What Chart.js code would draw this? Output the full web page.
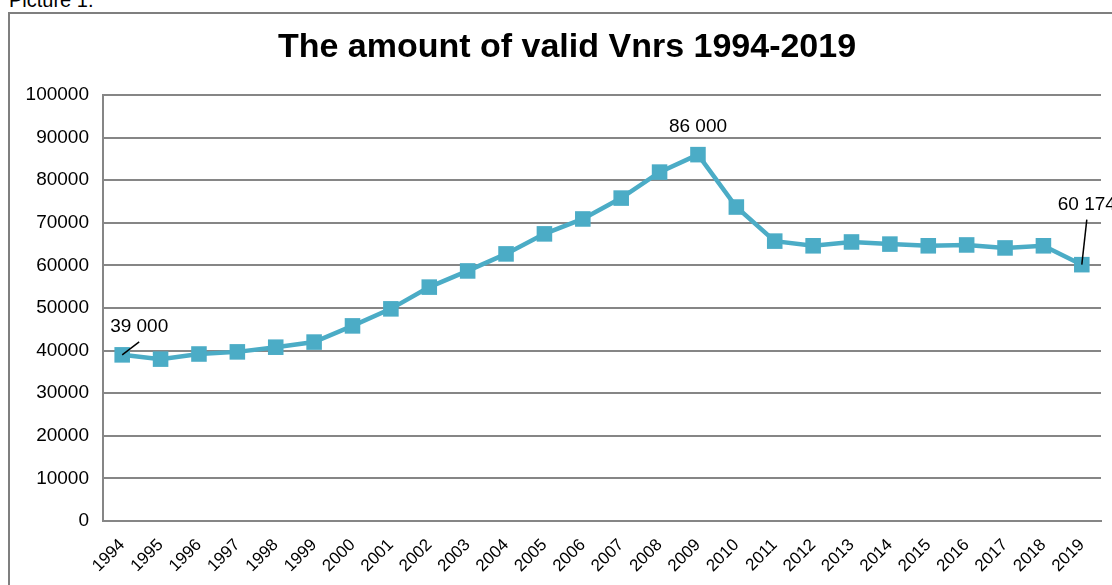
<!DOCTYPE html>
<html>
<head>
<meta charset="utf-8">
<script src="https://cdn.jsdelivr.net/npm/chart.js@4"></script>
<style>
  html, body { margin: 0; padding: 0; background: #fff; overflow: hidden; width: 1112px; height: 585px; }
  #caption { position: absolute; left: 9px; top: -11px; font: 20px "Liberation Sans", Arial, sans-serif; color: #000; }
  #frame { position: absolute; left: 8px; top: 12px; width: 1200px; height: 700px; border: 2px solid #7f7f7f; box-sizing: border-box; }
  #wrap { position: absolute; left: 0; top: 0; width: 1134px; height: 585px; }
</style>
</head>
<body>
<div id="caption">Picture 1.</div>
<div id="frame"></div>
<div id="wrap"><canvas id="vnrChart"></canvas></div>
<script>
// ---- data ----
const years = ["1994", "1995", "1996", "1997", "1998", "1999", "2000", "2001", "2002", "2003",
  "2004", "2005", "2006", "2007", "2008", "2009", "2010", "2011", "2012", "2013",
  "2014", "2015", "2016", "2017", "2018", "2019"];
const validVnrs = [39000, 38000, 39200, 39700, 40800, 42000, 45800, 49800, 54900, 58700,
  62700, 67400, 70900, 75800, 81900, 86000, 73700, 65700, 64600, 65500,
  65000, 64600, 64800, 64100, 64600, 60174];
const yTicks = [0, 10000, 20000, 30000, 40000, 50000, 60000, 70000, 80000, 90000, 100000];
const chartTitle = "The amount of valid Vnrs 1994-2019";
// labelled points and where their text sits relative to the point
const callouts = [
  { idx: 0, text: "39 000", dx: 17, dy: -28, lineTo: [17, -13] },
  { idx: 15, text: "86 000", dx: 0, dy: -28, lineTo: null },
  { idx: 25, text: "60 174", dx: 5, dy: -60, lineTo: [5, -45] }
];

const FONT = "\"Liberation Sans\", Arial, sans-serif";
const lineColor = "#4bacc6";

// title centred on the whole frame (which runs past the right edge), plus the value callouts
const calloutPlugin = {
  id: "callouts",
  afterDraw(chart) {
    const { ctx } = chart;
    ctx.save();
    ctx.font = "bold 34px " + FONT;
    ctx.fillStyle = "#000";
    ctx.textAlign = "center";
    ctx.textBaseline = "middle";
    ctx.fillText(chartTitle, chart.width / 2, 48);
    ctx.restore();
  },
  afterDatasetsDraw(chart) {
    const { ctx, scales } = chart;
    ctx.save();
    ctx.font = "19px " + FONT;
    ctx.fillStyle = "#000";
    ctx.strokeStyle = "#000";
    ctx.lineWidth = 1.5;
    ctx.textAlign = "center";
    ctx.textBaseline = "middle";
    callouts.forEach(c => {
      const x = scales.x.getPixelForValue(c.idx);
      const y = scales.y.getPixelForValue(validVnrs[c.idx]);
      if (c.lineTo) {
        ctx.beginPath();
        ctx.moveTo(x, y);
        ctx.lineTo(x + c.lineTo[0], y + c.lineTo[1]);
        ctx.stroke();
      }
      ctx.fillText(c.text, x + c.dx, y + c.dy);
    });
    ctx.restore();
  }
};

new Chart(document.getElementById("vnrChart").getContext("2d"), {
  type: "line",
  data: {
    labels: years,
    datasets: [{
      label: "Valid Vnrs",
      data: validVnrs,
      borderColor: lineColor,
      backgroundColor: lineColor,
      borderWidth: 4.5,
      tension: 0,
      pointStyle: "rect",
      pointRadius: 11,
      pointHoverRadius: 11,
      pointBorderWidth: 0
    }]
  },
  options: {
    responsive: true,
    maintainAspectRatio: false,
    animation: false,
    layout: { padding: { left: 0, right: 33, top: 95, bottom: 0 } },
    plugins: {
      legend: { display: false },
      tooltip: { enabled: false },
      title: { display: false }
    },
    scales: {
      x: {
        offset: true,
        grid: { display: false, drawTicks: false },
        border: { display: true, color: "#868686", width: 2 },
        ticks: {
          color: "#000",
          font: { family: FONT, size: 17 },
          minRotation: 45,
          maxRotation: 45,
          autoSkip: false,
          padding: 14
        },
        afterFit(scale) { scale.height = 64; }
      },
      y: {
        min: 0,
        max: 100000,
        grid: { color: "#868686", lineWidth: 2, drawTicks: false },
        border: { display: true, color: "#868686", width: 2 },
        afterBuildTicks(scale) { scale.ticks = yTicks.map(v => ({ value: v })); },
        ticks: {
          color: "#000",
          font: { family: FONT, size: 19 },
          padding: 14,
          callback: v => String(v)
        },
        afterFit(scale) { scale.width = 103; }
      }
    }
  },
  plugins: [calloutPlugin]
});
</script>
</body>
</html>
